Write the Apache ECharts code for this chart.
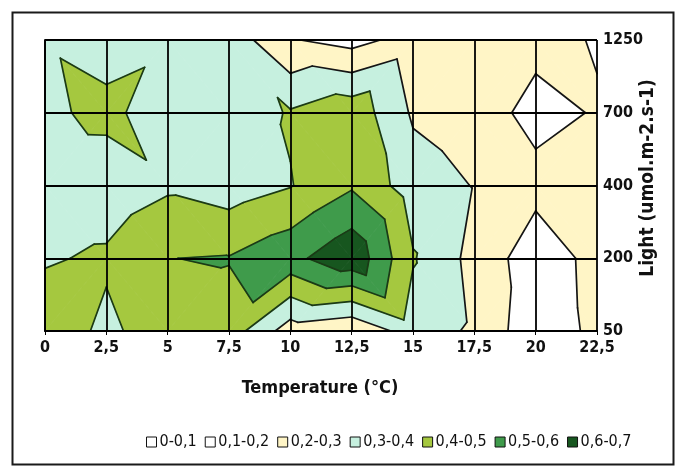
<!DOCTYPE html>
<html>
<head>
<meta charset="utf-8">
<script src="https://cdn.jsdelivr.net/npm/echarts@6/dist/echarts.min.js"></script>
<style>
  html, body { margin: 0; padding: 0; background: #ffffff; }
  #chart { width: 679px; height: 473px; }
</style>
</head>
<body>
<div id="chart"></div>
<script>
// Axis categories
const temperatures = ['0', '2,5', '5', '7,5', '10', '12,5', '15', '17,5', '20', '22,5'];
const lightLevels = ['50', '200', '400', '700', '1250'];

// Measured response, one row per light level, one value per temperature
const light50   = [0.474, 0.374, 0.467, 0.455, 0.249, 0.210, 0.351, 0.285, 0.130, 0.226];
const light200  = [0.388, 0.417, 0.499, 0.505, 0.570, 0.677, 0.408, 0.268, 0.144, 0.230];
const light400  = [0.330, 0.333, 0.384, 0.348, 0.395, 0.488, 0.348, 0.296, 0.230, 0.250];
const light700  = [0.377, 0.430, 0.336, 0.327, 0.410, 0.467, 0.287, 0.247, 0.170, 0.207];
const light1250 = [0.390, 0.353, 0.382, 0.362, 0.207, 0.164, 0.241, 0.250, 0.226, 0.194];

// Contour bands
const bandEdges = [0, 0.1, 0.2, 0.3, 0.4, 0.5, 0.6, 0.7];
const bandNames = ['0-0,1', '0,1-0,2', '0,2-0,3', '0,3-0,4', '0,4-0,5', '0,5-0,6', '0,6-0,7'];
const bandColors = ['#ffffff', '#ffffff', '#fff5c6', '#c6f0df', '#a5c83f', '#3f9b4b', '#17561f'];

const LABEL_FONT = "'Liberation Sans Narrow', 'DejaVu Sans Condensed', 'Liberation Sans', Arial, sans-serif";

const rows = [light50, light200, light400, light700, light1250];

// Split every grid cell into two triangles along the diagonal with the larger sum
const triangles = [];
for (let j = 0; j < rows.length - 1; j++) {
  for (let i = 0; i < temperatures.length - 1; i++) {
    const a = [i, j, rows[j][i]];
    const b = [i + 1, j, rows[j][i + 1]];
    const c = [i, j + 1, rows[j + 1][i]];
    const d = [i + 1, j + 1, rows[j + 1][i + 1]];
    if (a[2] + d[2] >= b[2] + c[2]) {
      triangles.push([a, b, d], [a, c, d]);
    } else {
      triangles.push([a, b, c], [b, d, c]);
    }
  }
}

// Keep the part of a linear polygon where value >= t (above) or <= t (below)
function clipByValue(poly, t, keepAbove) {
  const out = [];
  const n = poly.length;
  for (let k = 0; k < n; k++) {
    const P = poly[k], Q = poly[(k + 1) % n];
    const pin = keepAbove ? P[2] >= t : P[2] <= t;
    const qin = keepAbove ? Q[2] >= t : Q[2] <= t;
    if (pin) out.push(P);
    if (pin !== qin) {
      const f = (t - P[2]) / (Q[2] - P[2]);
      out.push([P[0] + f * (Q[0] - P[0]), P[1] + f * (Q[1] - P[1]), t]);
    }
  }
  return out;
}

// Iso-line segment of value t across one triangle
function isoSegment(tri, t) {
  const pts = [];
  for (let k = 0; k < 3; k++) {
    const P = tri[k], Q = tri[(k + 1) % 3];
    if ((P[2] < t) !== (Q[2] < t)) {
      const f = (t - P[2]) / (Q[2] - P[2]);
      pts.push([P[0] + f * (Q[0] - P[0]), P[1] + f * (Q[1] - P[1])]);
    }
  }
  return pts.length === 2 ? pts : null;
}

const triData = triangles.map((_, k) => [k]);

const bandSeries = bandNames.map((name, b) => ({
  type: 'custom',
  name: name,
  coordinateSystem: 'cartesian2d',
  data: triData,
  silent: true,
  animation: false,
  z: 2,
  itemStyle: { color: bandColors[b] },
  renderItem: function (params, api) {
    const tri = triangles[params.dataIndex];
    let poly = clipByValue(tri, bandEdges[b], true);
    if (poly.length >= 3) poly = clipByValue(poly, bandEdges[b + 1], false);
    if (poly.length < 3) return null;
    return {
      type: 'polygon',
      shape: { points: poly.map(p => api.coord([p[0], p[1]])) },
      style: { fill: bandColors[b], stroke: bandColors[b], lineWidth: 0.8 }
    };
  }
}));

const lineSeries = {
  type: 'custom',
  coordinateSystem: 'cartesian2d',
  data: triData,
  silent: true,
  animation: false,
  z: 3,
  renderItem: function (params, api) {
    const tri = triangles[params.dataIndex];
    const children = [];
    for (let e = 1; e < bandEdges.length - 1; e++) {
      const seg = isoSegment(tri, bandEdges[e]);
      if (!seg) continue;
      const p1 = api.coord(seg[0]), p2 = api.coord(seg[1]);
      children.push({
        type: 'line',
        shape: { x1: p1[0], y1: p1[1], x2: p2[0], y2: p2[1] },
        style: { stroke: bandEdges[e] >= 0.4 ? '#1b3a16' : '#151515', lineWidth: 1.7, lineCap: 'round' }
      });
    }
    return { type: 'group', children: children };
  }
};

const chart = echarts.init(document.getElementById('chart'), null, { renderer: 'canvas' });
chart.setOption({
  backgroundColor: '#ffffff',
  animation: false,
  grid: { left: 45, right: 82, top: 40, bottom: 142 },
  legend: {
    data: bandNames,
    left: 141,
    top: 429,
    icon: 'rect',
    itemWidth: 10,
    itemHeight: 10,
    itemGap: 8,
    itemStyle: { borderColor: '#111', borderWidth: 1 },
    textStyle: { fontSize: 16, color: '#111', fontFamily: LABEL_FONT, padding: [0, 0, 0, -2] },
    selectedMode: false
  },
  xAxis: {
    type: 'value', min: 0, max: temperatures.length - 1, interval: 1, z: 10,
    axisLine: { show: true, lineStyle: { color: '#000', width: 1.8 } },
    axisTick: { show: true, length: 4, lineStyle: { color: '#000', width: 1 } },
    axisLabel: {
      formatter: v => temperatures[v], color: '#111', fontSize: 16, fontWeight: 'bold',
      fontFamily: LABEL_FONT, margin: 9
    },
    splitLine: { show: true, lineStyle: { color: '#000', width: 1.8 } }
  },
  yAxis: {
    type: 'value', position: 'right', min: 0, max: lightLevels.length - 1, interval: 1, z: 10,
    axisLine: { show: true, lineStyle: { color: '#000', width: 1.8 } },
    axisTick: { show: true, length: 5, lineStyle: { color: '#000', width: 1 } },
    axisLabel: {
      formatter: v => lightLevels[v], color: '#111', fontSize: 16, fontWeight: 'bold',
      fontFamily: LABEL_FONT, margin: 6
    },
    splitLine: { show: true, lineStyle: { color: '#000', width: 1.8 } }
  },
  graphic: [
    {
      type: 'rect', left: 10, top: 10, z: 100, silent: true,
      shape: { width: 661, height: 452 },
      style: { fill: 'none', stroke: '#1a1a1a', lineWidth: 2 }
    },
    {
      type: 'text', x: 320, y: 388, z: 100, silent: true,
      style: {
        text: 'Temperature (°C)', fill: '#111', fontSize: 18, fontWeight: 'bold',
        fontFamily: LABEL_FONT, align: 'center', verticalAlign: 'middle'
      }
    },
    {
      type: 'text', x: 648, y: 178, rotation: Math.PI / 2, z: 100, silent: true,
      style: {
        text: 'Light (umol.m-2.s-1)', fill: '#111', fontSize: 19, fontWeight: 'bold',
        fontFamily: LABEL_FONT, align: 'center', verticalAlign: 'middle'
      }
    }
  ],
  series: bandSeries.concat([lineSeries])
});
</script>
</body>
</html>
